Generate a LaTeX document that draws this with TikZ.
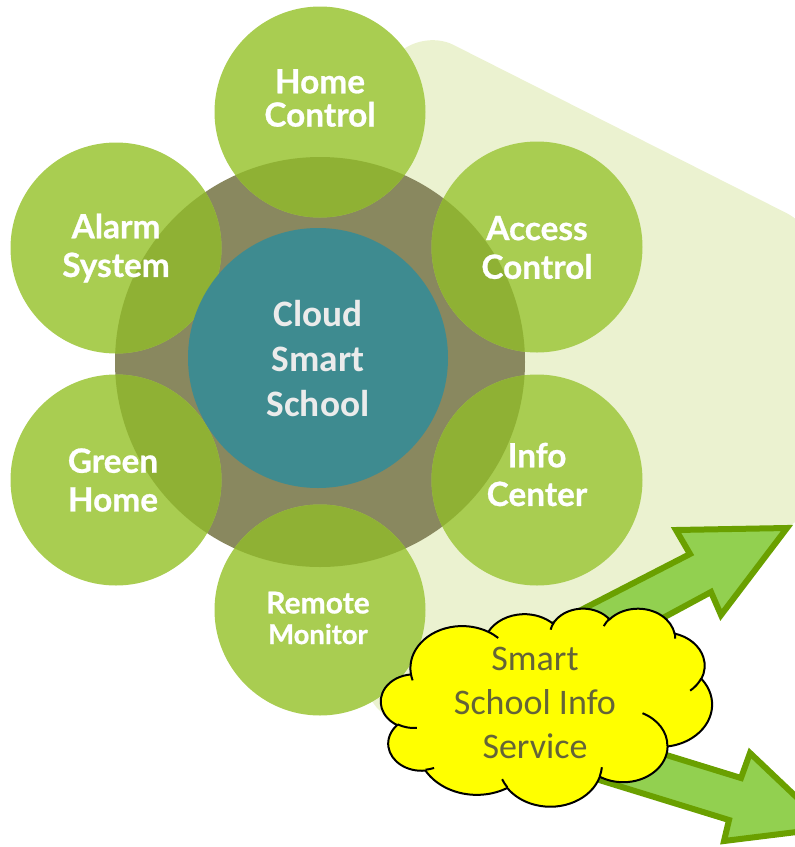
\documentclass[tikz,border=0pt]{standalone}
\usepackage{fontspec}
\newfontfamily\latofont{Lato}[BoldFeatures={FakeBold=0.8}]
\newfontfamily\carlfont{Carlito}
\definecolor{palebg}{RGB}{235,242,208}
\definecolor{ringcol}{RGB}{137,136,95}
\definecolor{leaf}{RGB}{169,205,81}
\definecolor{leafdark}{RGB}{143,177,52}
\definecolor{coreteal}{RGB}{62,139,144}
\definecolor{corelabel}{RGB}{235,235,235}
\definecolor{arrowfill}{RGB}{146,208,80}
\definecolor{arrowline}{RGB}{106,160,0}
\definecolor{cloudtext}{RGB}{100,100,56}
\definecolor{cloudfill}{RGB}{255,255,0}
\newcommand\carc[4]{arc[start angle={atan2((#1)*sin(#3),(#2)*cos(#3))}, delta angle={mod(atan2((#1)*sin((#3)+(#4)),(#2)*cos((#3)+(#4)))-atan2((#1)*sin(#3),(#2)*cos(#3))+720,360)}, x radius=#1, y radius=#2]}
\begin{document}
\begin{tikzpicture}[x=0.75pt,y=-0.75pt,
  leafcircle/.style={circle, fill=leaf, minimum size=158.25pt, inner sep=0pt},
  lbl/.style={text=white, align=center, inner sep=0pt},
  blockarrow/.style={fill=arrowfill, draw=arrowline, line width=4.5pt, line join=miter},
  cloudshape/.style={fill=cloudfill, draw=black, line width=1.5pt},
  cloudinner/.style={draw=black, line width=1.5pt},
]
\useasboundingbox (0,0) rectangle (795,847);
\clip (0,0) rectangle (795,847);
% pale background
\fill[palebg, rounded corners=28] (137,354) -- (420,28) -- (820,230) -- (820,510) -- (395,735) -- cycle;
% ring
\node[circle, fill=ringcol, minimum size=307.5pt, inner sep=0pt] (ring) at (320,362) {};
% satellite circles
\node[leafcircle] (home) at (320,112) {};
\node[leafcircle] (alarm) at (116,248) {};
\node[leafcircle] (access) at (537,247) {};
\node[leafcircle] (greenhome) at (116,480) {};
\node[leafcircle] (info) at (537,480) {};
\node[leafcircle] (remote) at (320,610) {};
\begin{scope}
\clip (ring.center) circle[radius=205];
\foreach \n in {home,alarm,access,greenhome,info,remote}
  \fill[leafdark] (\n.center) circle[radius=105.5];
\end{scope}
% core
\node[circle, fill=coreteal, minimum size=195pt, inner sep=0pt] (core) at (318,358) {};
% labels
\node[lbl, font=\latofont\bfseries\fontsize{25}{25}\selectfont] (homel) at (320,98) {Home\\Control};
\node[lbl, font=\latofont\bfseries\fontsize{25}{29}\selectfont] (alarml) at (116,248) {Alarm\\System};
\node[lbl, font=\latofont\bfseries\fontsize{25}{29}\selectfont] (accessl) at (537,247.5) {Access\\Control};
\node[lbl, font=\latofont\bfseries\fontsize{25}{29}\selectfont] (greenl) at (113,480) {Green\\Home};
\node[lbl, font=\latofont\bfseries\fontsize{25}{29}\selectfont] (infol) at (537,474.5) {Info\\Center};
\node[lbl, font=\latofont\bfseries\fontsize{22.5}{23}\selectfont] (remotel) at (318,618) {Remote\\{\fontsize{20.5}{23}\selectfont Monitor}};
\node[lbl, text=corelabel, font=\carlfont\bfseries\fontsize{28}{34}\selectfont] (corel) at (318,358.5) {Cloud\\Smart\\School};
% arrows
\draw[blockarrow] (511,646) -- (690,554) -- (676,530) -- (787,528) -- (721,615) -- (711,592) -- (535,687) -- cycle;
\draw[blockarrow] (569,725) -- (741,778) -- (750,753) -- (829,828) -- (724,841) -- (729,820) -- (557,767) -- cycle;
% cloud
\begin{scope}[shift={(381,608)}, x=0.57465pt, y=-0.34375pt]
\path[cloudshape] (39.00,143.70) \carc{67.53}{91.90}{-190.4875}{123.7805} \carc{53.33}{72.67}{-144.1024}{89.9452} \carc{43.65}{59.45}{-145.8079}{99.7230} \carc{48.57}{65.95}{-130.9861}{117.2417} \carc{53.33}{72.73}{-78.7089}{109.0269} \carc{67.75}{92.20}{-46.2673}{130.2690} \carc{57.85}{78.67}{0.6250}{114.0333} \carc{67.52}{92.15}{22.4516}{115.1726} \carc{77.20}{105.43}{66.2426}{75.7110} \carc{43.60}{59.18}{-274.9421}{146.7356} \carc{43.45}{59.45}{-246.8285}{152.5225} -- cycle;
\draw[cloudinner] (46.93,261.77) \carc{43.45}{59.45}{86.742}{26.4295}
 (69.28,348.99) \carc{43.60}{59.18}{73.6105}{11.4475}
 (164.78,390.90) \carc{67.52}{92.15}{137.6242}{14.0811}
 (288.27,347.51) \carc{67.52}{92.15}{6.4533}{15.9984}
 (341.29,229.54) \carc{57.85}{78.67}{-70.2924}{70.9174}
 (417.98,153.54) \carc{53.33}{72.73}{30.3180}{27.7515}
 (383.24,54.26) \carc{48.57}{65.95}{-13.7443}{14.8589}
 (290.78,39.52) \carc{48.57}{65.95}{-149.1815}{18.1954}
 (221.41,47.20) \carc{43.65}{59.45}{-163.4943}{17.6864}
 (140.00,51.92) \carc{67.53}{91.90}{-66.7070}{12.3194}
 (41.27,157.89) \carc{67.53}{91.90}{157.6544}{11.8582};
\end{scope}
\node[font=\carlfont\fontsize{27}{33}\selectfont, text=cloudtext, align=center, inner sep=0pt] (cloudl) at (535,702.5) {Smart\\School Info\\Service};
\end{tikzpicture}
\end{document}
